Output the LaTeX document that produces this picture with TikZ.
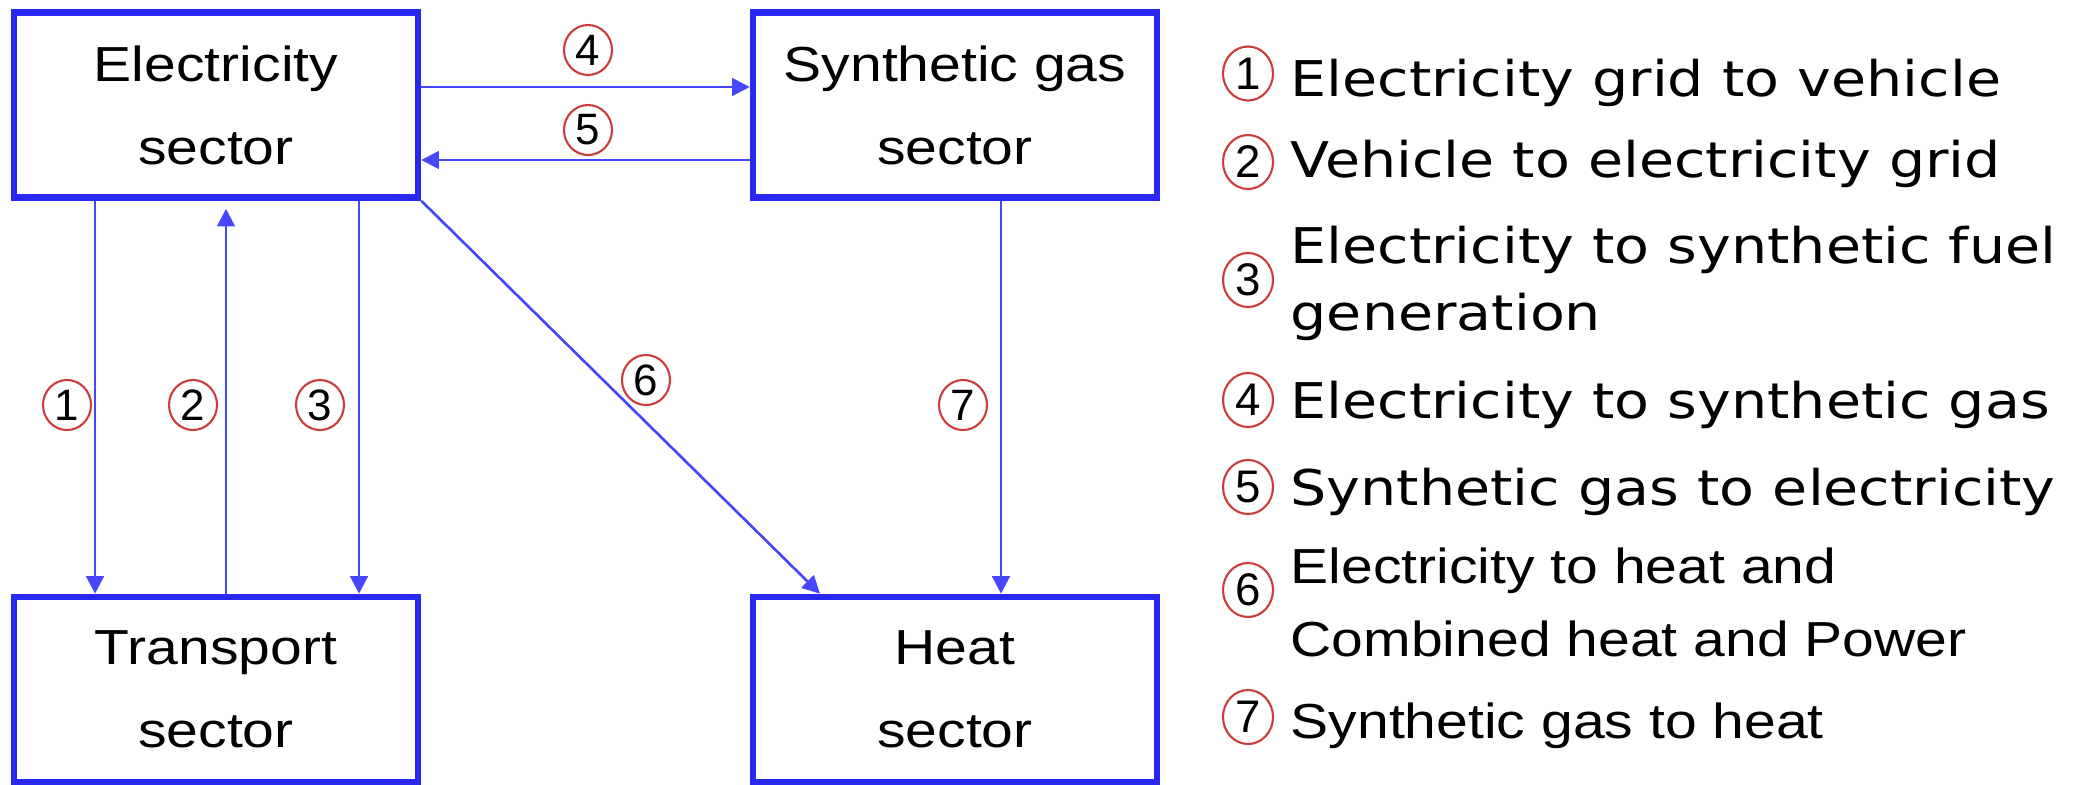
\documentclass[tikz,border=0pt]{standalone}
\usepackage{fontspec}
\usepackage{xcolor}
\usepackage{tikz}
\usetikzlibrary{arrows.meta, shapes.geometric}
\setmainfont{Liberation Sans}
\newfontfamily\boxfont[FakeStretch=1.16]{Liberation Sans}
\newfontfamily\keyfont[FakeStretch=1.16]{DejaVu Sans}
\definecolor{boxblue}{RGB}{40,40,240}
\definecolor{linkblue}{RGB}{70,70,250}
\definecolor{numred}{RGB}{205,60,60}

\begin{document}
\begin{tikzpicture}[
    sector/.style={draw=boxblue, line width=1.85pt, minimum width=4.04cm, minimum height=1.85cm,
        align=center, font=\boxfont\fontsize{14pt}{23.6pt}\selectfont},
    link/.style={linkblue, line width=0.75pt, -{Triangle[length=5pt,width=5pt]}},
    num/.style={ellipse, draw=numred, line width=0.6pt, inner sep=0pt, minimum width=0.48cm,
        minimum height=0.5cm, font=\fontsize{12.5pt}{12.5pt}\selectfont},
    keynum/.style={num, minimum width=0.5cm, minimum height=0.54cm, font=\fontsize{13pt}{13pt}\selectfont},
    keytext/.style={anchor=base west, inner sep=0pt, align=left}
]
    \useasboundingbox (0,0) rectangle (20.82,7.84);

    % 部门框
    \node[sector] (elec) at (2.16, 6.79) {Electricity\\sector};
    \node[sector] (synth) at (9.55, 6.79) {Synthetic gas\\sector};
    \node[sector] (trans) at (2.16, 0.945) {Transport\\sector};
    \node[sector] (heat) at (9.55, 0.945) {Heat\\sector};

    % 箭头
    \draw[link] ([xshift=-1.21cm]elec.south) -- ([xshift=-1.21cm]trans.north);
    \draw[link, shorten >=0.08cm] ([xshift=0.10cm]trans.north) -- ([xshift=0.10cm]elec.south);
    \draw[link] ([xshift=1.43cm]elec.south) -- ([xshift=1.43cm]trans.north);
    \draw[link] ([yshift=0.18cm]elec.east) -- ([yshift=0.18cm]synth.west);
    \draw[link] ([yshift=-0.55cm]synth.west) -- ([yshift=-0.55cm]elec.east);
    \draw[link] (elec.south east) -- ([xshift=-1.35cm]heat.north);
    \draw[link] ([xshift=0.46cm]synth.south) -- ([xshift=0.46cm]heat.north);

    % 编号
    \node[num] (n1) at (0.67, 3.79) {1};
    \node[num] (n2) at (1.93, 3.79) {2};
    \node[num] (n3) at (3.20, 3.79) {3};
    \node[num] (n4) at (5.88, 7.34) {4};
    \node[num] (n5) at (5.88, 6.54) {5};
    \node[num] (n6) at (6.46, 4.04) {6};
    \node[num] (n7) at (9.63, 3.79) {7};

    % 图例
    \node[keynum] (k1) at (12.48, 7.105) {1};
    \node[keynum] (k2) at (12.48, 6.22) {2};
    \node[keynum] (k3) at (12.48, 5.04) {3};
    \node[keynum] (k4) at (12.48, 3.84) {4};
    \node[keynum] (k5) at (12.48, 2.97) {5};
    \node[keynum] (k6) at (12.48, 1.94) {6};
    \node[keynum] (k7) at (12.48, 0.67) {7};

    \node[keytext, font=\keyfont\fontsize{14pt}{19pt}\selectfont] (t1) at (12.90, 6.88) {Electricity grid to vehicle};
    \node[keytext, font=\keyfont\fontsize{14pt}{19pt}\selectfont] (t2) at (12.90, 6.07) {Vehicle to electricity grid};
    \node[keytext, font=\keyfont\fontsize{14pt}{19pt}\selectfont] (t3) at (12.90, 4.54) {Electricity to synthetic fuel\\generation};
    \node[keytext, font=\keyfont\fontsize{14pt}{19pt}\selectfont] (t4) at (12.90, 3.66) {Electricity to synthetic gas};
    \node[keytext, font=\keyfont\fontsize{14pt}{19pt}\selectfont] (t5) at (12.90, 2.79) {Synthetic gas to electricity};
    \node[keytext, font=\boxfont\fontsize{14pt}{20.5pt}\selectfont] (t6) at (12.90, 1.28) {Electricity to heat and\\Combined heat and Power};
    \node[keytext, font=\boxfont\fontsize{14pt}{20.5pt}\selectfont] (t7) at (12.90, 0.46) {Synthetic gas to heat};
\end{tikzpicture}
\end{document}
